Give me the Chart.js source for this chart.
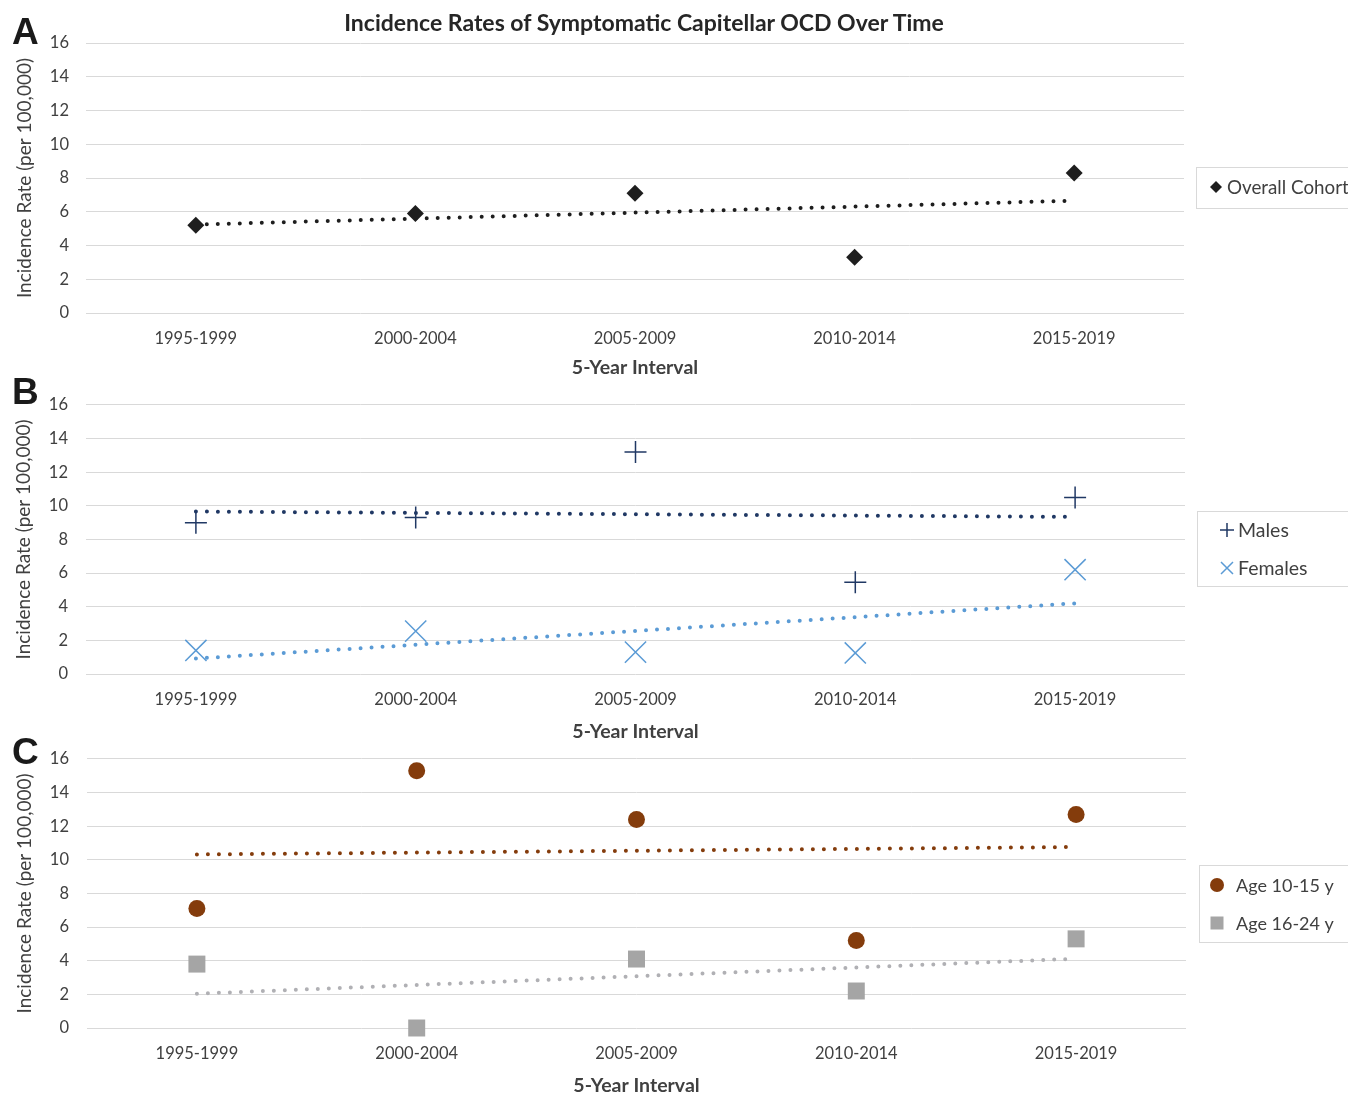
<!DOCTYPE html>
<html><head><meta charset="utf-8">
<script src="https://cdn.jsdelivr.net/npm/chart.js@4.4.0/dist/chart.umd.min.js"></script>
<style>
html,body{margin:0;padding:0;background:#fff;overflow:hidden;}
#wrap{position:relative;width:1348px;height:1094px;overflow:hidden;background:#fff;}
canvas{position:absolute;left:0;}
.lbl{position:absolute;font-family:"Liberation Sans",Arial,sans-serif;font-weight:bold;font-size:37px;line-height:37px;color:#1a1a1a;}
#title{position:absolute;left:0;width:1288px;text-align:center;top:7px;font-family:Lato,sans-serif;font-weight:bold;font-size:23px;line-height:30px;color:#262626;}
</style></head><body>
<div id="wrap">
<canvas id="cA" width="1348" height="381" style="top:0px"></canvas>
<canvas id="cB" width="1348" height="368" style="top:377px"></canvas>
<canvas id="cC" width="1348" height="368" style="top:731px"></canvas>
<div id="title">Incidence Rates of Symptomatic Capitellar OCD Over Time</div>
<div class="lbl" style="left:12px;top:13px">A</div>
<div class="lbl" style="left:12px;top:373px">B</div>
<div class="lbl" style="left:12px;top:733px">C</div>
</div>
<script>
// ---- data ----
const intervals = ['1995-1999', '2000-2004', '2005-2009', '2010-2014', '2015-2019'];
const yTickValues = [0, 2, 4, 6, 8, 10, 12, 14, 16];
const overallCohort = [5.2, 5.9, 7.1, 3.3, 8.3];
const overallTrend = [5.24, null, null, null, 6.66];
const males = [9.0, 9.3, 13.2, 5.45, 10.5];
const malesTrend = [9.66, null, null, null, 9.34];
const females = [1.4, 2.55, 1.3, 1.25, 6.2];
const femalesTrend = [0.92, null, null, null, 4.2];
const age10to15 = [7.1, 15.3, 12.4, 5.2, 12.7];
const age10to15Trend = [10.32, null, null, null, 10.76];
const age16to24 = [3.8, 0, 4.1, 2.2, 5.3];
const age16to24Trend = [2.04, null, null, null, 4.12];

const FONT = 'Lato, sans-serif';
const TXT = '#404040';

function drawMarker(ctx, style, x, y, r, fill, stroke, lw) {
  ctx.save();
  ctx.fillStyle = fill; ctx.strokeStyle = stroke; ctx.lineWidth = lw;
  ctx.beginPath();
  if (style === 'rectRot') {
    ctx.moveTo(x - r, y); ctx.lineTo(x, y - r); ctx.lineTo(x + r, y); ctx.lineTo(x, y + r); ctx.closePath(); ctx.fill();
  } else if (style === 'cross') {
    ctx.moveTo(x - r, y); ctx.lineTo(x + r, y); ctx.moveTo(x, y - r); ctx.lineTo(x, y + r); ctx.stroke();
  } else if (style === 'crossRot') {
    ctx.moveTo(x - r, y - r); ctx.lineTo(x + r, y + r); ctx.moveTo(x + r, y - r); ctx.lineTo(x - r, y + r); ctx.stroke();
  } else if (style === 'rect') {
    ctx.rect(x - r, y - r, 2 * r, 2 * r); ctx.fill();
  } else {
    ctx.arc(x, y, r, 0, Math.PI * 2); ctx.fill();
  }
  ctx.restore();
}

const boxLegend = {
  id: 'boxLegend',
  afterDraw(chart, args, o) {
    if (!o || !o.items) return;
    const ctx = chart.ctx;
    ctx.save();
    ctx.fillStyle = '#fff';
    ctx.fillRect(o.x, o.y, o.w, o.h);
    ctx.strokeStyle = '#d9d9d9'; ctx.lineWidth = 1;
    ctx.strokeRect(o.x + 0.5, o.y + 0.5, o.w, o.h);
    o.items.forEach(it => {
      const ds = chart.data.datasets[it.ds];
      drawMarker(ctx, ds.pointStyle, it.mx, it.y, it.r, ds.pointBackgroundColor, ds.pointBorderColor, it.lw || 1.5);
      ctx.fillStyle = TXT; ctx.font = o.fontSize + 'px ' + FONT; ctx.textBaseline = 'middle'; ctx.textAlign = 'left';
      ctx.fillText(ds.label, it.tx, it.y + 1);
    });
    ctx.restore();
  }
};

function scales(o) {
  return {
    x: {
      type: 'category', offset: true,
      grid: { display: false, drawTicks: false }, border: { display: false },
      ticks: { color: TXT, font: { family: FONT, size: 16.5 }, padding: 16, maxRotation: 0, autoSkip: false },
      title: { display: true, text: '5-Year Interval', color: TXT, font: { family: FONT, size: 19.5, weight: 'bold' }, padding: { top: 0, bottom: 2 } },
      afterFit(s) { s.height = o.xH; }
    },
    y: {
      min: 0, max: 16,
      afterBuildTicks(s) { s.ticks = yTickValues.map(v => ({ value: v })); },
      ticks: { color: TXT, font: { family: FONT, size: 16.5 }, padding: o.yPad },
      grid: { color: '#d9d9d9', lineWidth: 1, drawTicks: false }, border: { display: false },
      title: { display: true, text: 'Incidence Rate (per 100,000)', color: TXT, font: { family: FONT, size: 19 }, padding: { top: 0, bottom: 0 } },
      afterFit(s) { s.width = o.yW; }
    }
  };
}

function trend(label, data, color) {
  return { type: 'line', label, data, borderColor: color, borderWidth: 4, borderDash: [0, 11], borderCapStyle: 'round',
    pointRadius: 0, spanGaps: true, fill: false, order: 2, tension: 0, clip: false };
}
function marks(label, data, style, color, r, bw) {
  return { type: 'line', label, data, showLine: false, pointStyle: style, pointRadius: r, pointHoverRadius: r,
    pointBackgroundColor: color, pointBorderColor: color, pointBorderWidth: bw, borderColor: color, order: 1, clip: false };
}

function make(id, datasets, o, legend) {
  return new Chart(document.getElementById(id), {
    data: { labels: intervals, datasets },
    options: {
      responsive: false, animation: false, events: [],
      layout: { padding: { top: o.top, left: o.left, right: o.right, bottom: 0 } },
      plugins: { legend: { display: false }, tooltip: { enabled: false }, boxLegend: legend },
      scales: scales(o)
    },
    plugins: [boxLegend]
  });
}

const BLACK = '#1e1e1e', NAVY = '#203864', BLUE = '#5b9bd5', BROWN = '#843c0c', GRAY = '#a5a5a5';

make('cA', [
  marks('Overall Cohort', overallCohort, 'rectRot', BLACK, 8.5, 0),
  trend('Overall Cohort trend', overallTrend, BLACK)
], { top: 43, left: 13, right: 164, yW: 73, xH: 68, yPad: 17 },
{ x: 1196, y: 167, w: 200, h: 41, fontSize: 18.8, items: [{ ds: 0, mx: 1216, tx: 1227, y: 187, r: 6 }] });

make('cB', [
  marks('Males', males, 'cross', NAVY, 11, 1.5),
  marks('Females', females, 'crossRot', BLUE, 15, 1.5),
  trend('Males trend', malesTrend, NAVY),
  trend('Females trend', femalesTrend, BLUE)
], { top: 27, left: 12, right: 163, yW: 74, xH: 71, yPad: 18 },
{ x: 1197, y: 134, w: 200, h: 75, fontSize: 19.5, items: [
  { ds: 0, mx: 1227, tx: 1238, y: 153, r: 7 },
  { ds: 1, mx: 1227, tx: 1238, y: 191, r: 6 }
] });

make('cC', [
  marks('Age 10-15 y', age10to15, 'circle', BROWN, 8.5, 0),
  marks('Age 16-24 y', age16to24, 'rect', GRAY, 12, 0),
  trend('Age 10-15 y trend', age10to15Trend, BROWN),
  trend('Age 16-24 y trend', age16to24Trend, '#b0b0b4')
], { top: 27, left: 13, right: 162, yW: 74, xH: 71, yPad: 18 },
{ x: 1199, y: 134, w: 200, h: 77, fontSize: 18, items: [
  { ds: 0, mx: 1217, tx: 1236, y: 154, r: 7 },
  { ds: 1, mx: 1217, tx: 1236, y: 192, r: 6.5 }
] });
</script>
</body></html>
